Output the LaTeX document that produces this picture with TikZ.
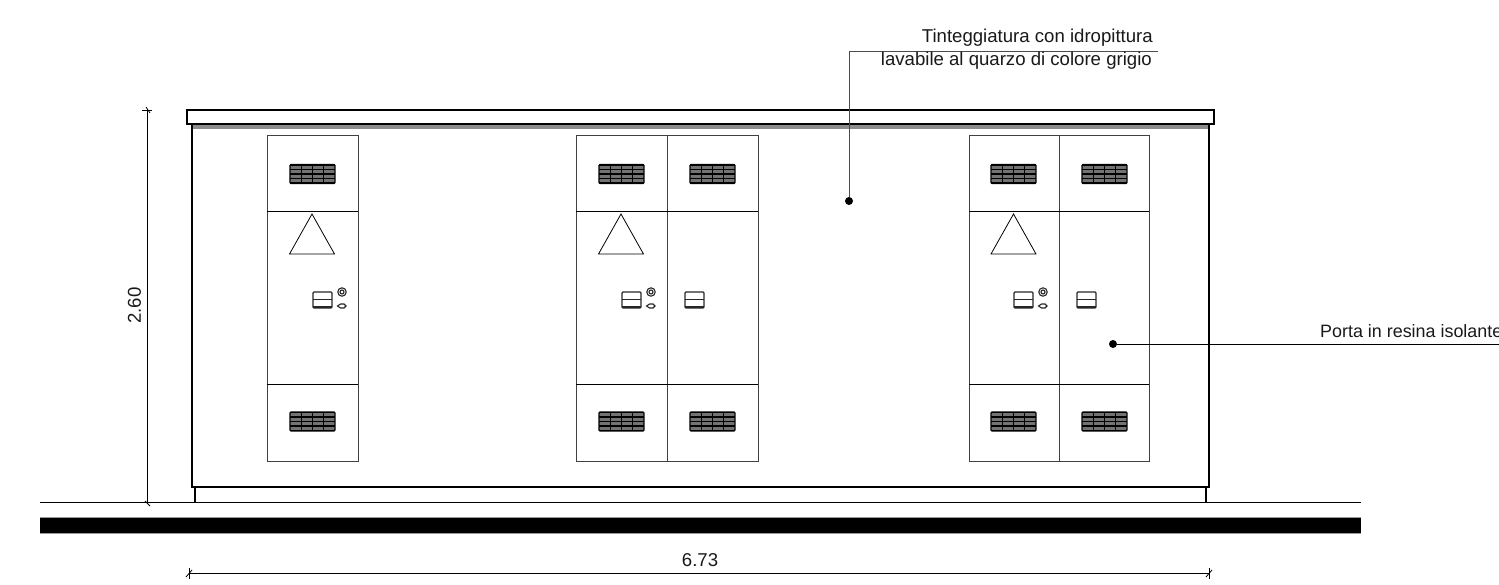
\documentclass[tikz,border=0pt]{standalone}
\usepackage{fontspec}
\setmainfont{Liberation Sans}
\newcommand{\vent}[2]{%
  \fill[ventfill] (#1-22.5,-#2+9.5) rectangle (#1+22.5,-#2-9.5);
  \foreach \dy in {-9,-4.5,0,4.5,9} \draw[ventline] (#1-22.5,-#2+\dy) -- (#1+22.5,-#2+\dy);
  \foreach \dx in {-11,0,11} \draw[ventbar] (#1+\dx,-#2+9.5) -- (#1+\dx,-#2-9.5);
  \draw[ventline,rounded corners=1] (#1-22.5,-#2+9.5) rectangle (#1+22.5,-#2-9.5);
}
\newcommand{\handle}[2]{%
  \draw[handleline,rounded corners=1] (#1,-#2) rectangle (#1+19,-#2-16);
  \draw[handleline,line width=1.5pt] (#1,-#2-7.5) -- (#1+19,-#2-7.5);
  \draw[handleline,line width=2.4pt] (#1,-#2-15) -- (#1+19,-#2-15);
}
\newcommand{\lock}[2]{%
  \draw[handleline] (#1,-#2) circle (4.2);
  \draw[handleline,line width=1.1pt] (#1,-#2) circle (2);
  \draw[handleline] (#1-4.5,-#2-14) -- (#1-1.5,-#2-12) -- (#1+2,-#2-12) -- (#1+4,-#2-14) -- (#1+2,-#2-16) -- (#1-1.5,-#2-16) -- cycle;
}
\newcommand{\warn}[1]{\draw[thinline] (#1,-214) -- (#1+22.5,-254) -- (#1-22.5,-254) -- cycle;}
\tikzset{
  x=1pt,y=1pt,
  heavy/.style={draw=black,line width=2.8pt,line join=miter},
  doorline/.style={draw=black!75,line width=0.9pt},
  thinline/.style={draw=black,line width=0.8pt},
  dimline/.style={draw=black,line width=0.9pt},
  leaderline/.style={draw=black!70,line width=0.9pt},
  ventfill/.style={fill=black!55},
  ventline/.style={draw=black,line width=1.1pt},
  ventbar/.style={draw=black,line width=1.3pt},
  handleline/.style={draw=black!85,line width=1.1pt},
  dotnode/.style={circle,fill=black,inner sep=0pt,minimum size=8pt},
  labeltext/.style={font=\fontsize{18.6}{22}\selectfont,inner sep=0pt,text=black!90},
}
\begin{document}
\begin{tikzpicture}
\useasboundingbox (0,0) rectangle (1499,-584);
% ground
\fill[black] (40,-517) rectangle (1361,-533);
\draw[black!40,line width=0.7pt] (40,-517) -- (1361,-517);
\draw[black!40,line width=0.7pt] (40,-533) -- (1361,-533);
\draw[thinline,line width=1pt] (40,-502.5) -- (1361,-502.5);
% gray strip under the roof
\fill[black!45] (192,-124) rectangle (1209,-129);
% body and feet
\draw[heavy] (192,-124) -- (192,-487) -- (1209,-487) -- (1209,-124);
\draw[heavy] (195,-487) -- (195,-503);
\draw[heavy] (1206,-487) -- (1206,-503);
% roof
\draw[heavy] (187,-110) rectangle (1214,-124);
% doors
\draw[doorline] (267,-135) rectangle (358,-461);
\draw[doorline] (576,-135) rectangle (758,-461);
\draw[doorline] (667,-135) -- (667,-461);
\draw[doorline] (969,-135) rectangle (1149,-461);
\draw[doorline] (1059,-135) -- (1059,-461);
\foreach \a/\b in {267/358,576/758,969/1149} {
  \draw[thinline] (\a,-211) -- (\b,-211);
  \draw[thinline] (\a,-384) -- (\b,-384);
}
\foreach \cx in {312.5,621.5,712.5,1013.5,1104.5} {
  \vent{\cx}{174}
  \vent{\cx}{421.5}
}
\warn{312}
\warn{621}
\warn{1013.5}
\handle{313}{292}
\lock{342}{292}
\handle{622}{292}
\lock{651}{292}
\handle{1014}{292}
\lock{1043}{292}
\handle{685}{292}
\handle{1077}{292}
% dimensions
\coordinate (vt) at (147.5,-109);
\coordinate (vb) at (147.5,-504);
\draw[dimline] (vt) -- (vb);
\draw[dimline] (142,-110) -- (152,-110);
\draw[thinline] (146,-107) -- (150,-113);
\draw[dimline] (145,-501) -- (150,-506);
\coordinate (hl) at (189,-573.5);
\coordinate (hr) at (1209,-573.5);
\draw[dimline] (hl) -- (hr);
\draw[thinline] (189,-568) -- (189,-579);
\draw[thinline] (1209,-568) -- (1209,-579);
\draw[thinline] (186,-577) -- (192,-570);
\draw[thinline] (1206,-577) -- (1212,-570);
\node[labeltext,rotate=90] (h260) at (134.5,-305.5) {2.60};
\node[labeltext] (w673) at (700,-560) {6.73};
% leaders
\node[dotnode] (d1) at (849,-201) {};
\coordinate (c1) at (849,-51);
\coordinate (c2) at (1158,-51);
\draw[leaderline] (d1) -- (c1) -- (c2);
\node[dotnode] (d2) at (1113,-344) {};
\coordinate (c3) at (1499,-344);
\draw[thinline,line width=1pt] (d2) -- (c3);
\node[labeltext,anchor=base east] (t1) at (1153,-42.5) {Tinteggiatura con idropittura};
\node[labeltext,anchor=base east] (t2) at (1152,-65.5) {lavabile al quarzo di colore grigio};
\node[labeltext,font=\fontsize{17.9}{22}\selectfont,anchor=base west] (t3) at (1320,-337) {Porta in resina isolante};
\end{tikzpicture}
\end{document}
